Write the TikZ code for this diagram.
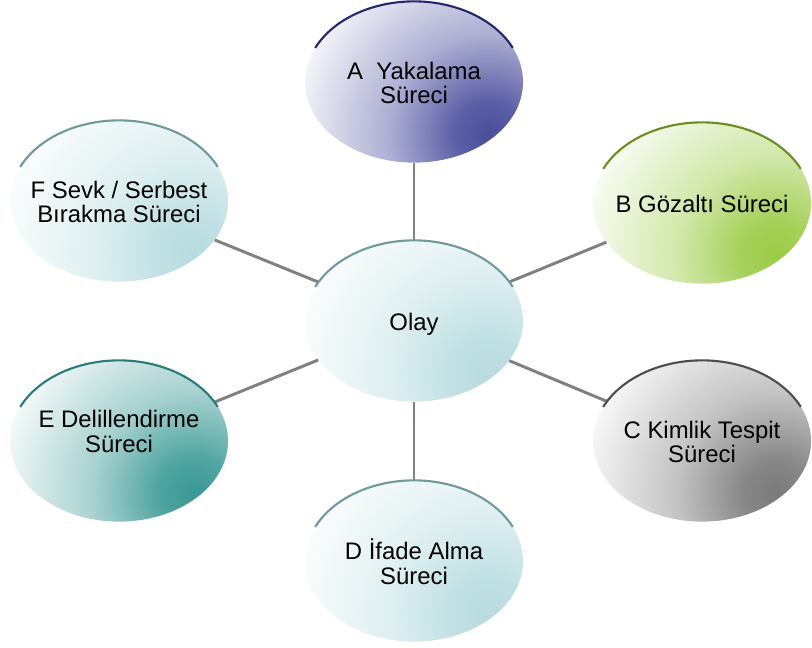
\documentclass[tikz,border=0pt]{standalone}
\usepackage{fontspec}
\setmainfont{Liberation Sans}
\usetikzlibrary{shapes.geometric}

\definecolor{aSpot}{HTML}{4A4D9C}\definecolor{aEdge}{HTML}{26266E}
\definecolor{bSpot}{HTML}{9BCB45}\definecolor{bEdge}{HTML}{6B8E1F}
\definecolor{cSpot}{HTML}{7A7A7A}\definecolor{cEdge}{HTML}{4D4D4D}
\definecolor{eSpot}{HTML}{3A9995}\definecolor{eEdge}{HTML}{2A7C78}
\definecolor{tealSpot}{HTML}{B8DCE0}\definecolor{tealEdge}{HTML}{6F9A9C}
\definecolor{linkGray}{HTML}{808080}
\colorlet{spot}{white}

% soft glow towards the lower right of every bubble
\pgfdeclareradialshading[spot]{glow}{\pgfpoint{0bp}{0bp}}{color(0bp)=(spot);
  color(4bp)=(spot!90!white); color(12bp)=(spot!45!white); color(25bp)=(white); color(50bp)=(white)}

% text must not widen the ellipse
\newcommand{\bubtext}[2][-7.5pt]{\raisebox{#1}[0pt][0pt]{\makebox[0pt]{\begin{tabular}{@{}c@{}}#2\end{tabular}}}}

\tikzset{
  bubble/.style={ellipse,minimum width=5.45cm,minimum height=4.03cm,inner sep=0pt,
    font=\fontsize{17}{17.5}\selectfont,
    path picture={\colorlet{spot}{#1}
      \shade[shading=glow] ([shift={(1.85cm,-1.3cm)}]path picture bounding box.center) circle (5.2cm);}},
  link/.style={draw=linkGray,line width=2.1pt}
}

\begin{document}
\begin{tikzpicture}[x=0.025cm,y=-0.025cm]
\useasboundingbox (0,0) rectangle (812,648);

\node[bubble=tealSpot] (olay) at (414,321) {\bubtext{Olay}};
\node[bubble=aSpot] (a) at (414,82) {\bubtext{A\ \ Yakalama\\Süreci}};
\node[bubble=bSpot] (b) at (702,203) {\bubtext{B Gözaltı Süreci}};
\node[bubble=cSpot] (c) at (702,441) {\bubtext{C Kimlik Tespit\\Süreci}};
\node[bubble=tealSpot] (d) at (414,561) {\bubtext{D İfade Alma\\Süreci}};
\node[bubble=eSpot] (e) at (119,441) {\bubtext[0pt]{E Delillendirme\\Süreci}};
\node[bubble=tealSpot] (f) at (119,201) {\bubtext{F Sevk / Serbest\\Bırakma Süreci}};

\foreach \n in {a,b,c,d,e,f}{\draw[link] (olay) -- (\n);}

\foreach \n/\c in {olay/tealEdge,a/aEdge,b/bEdge,c/cEdge,d/tealEdge,e/eEdge,f/tealEdge}{
  \draw[\c,line width=1.5pt] ([shift={(155:2.725cm and 2.015cm)}]\n.center)
    arc[start angle=155,end angle=25,x radius=2.725cm,y radius=2.015cm];}

\end{tikzpicture}
\end{document}
